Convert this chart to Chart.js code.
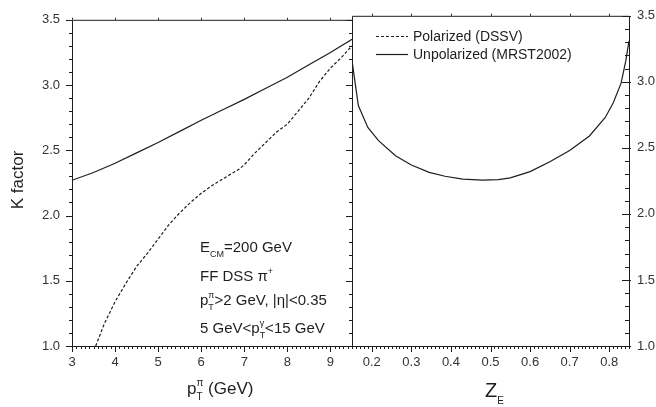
<!DOCTYPE html>
<html>
<head>
<meta charset="utf-8">
<script src="https://cdn.jsdelivr.net/npm/chart.js@4.4.1/dist/chart.umd.min.js"></script>
<style>
  html, body { margin: 0; padding: 0; background: #fff; }
  #wrap { position: relative; width: 656px; height: 407px; }
  #wrap canvas { position: absolute; left: 0; top: 0; }
</style>
</head>
<body>
<div id="wrap">
  <canvas id="kPt" width="656" height="407"></canvas>
  <canvas id="kZ" width="656" height="407"></canvas>
</div>
<script>
/* K factor vs pT (left) and vs z_E (right) */

// left panel
const ptTicks  = [3, 4, 5, 6, 7, 8, 9];
const unpolPtX = [3, 3.5, 4, 4.5, 5, 5.5, 6, 6.5, 7, 7.5, 8, 8.5, 9, 9.5];
const unpolPtK = [2.27, 2.33, 2.40, 2.48, 2.56, 2.645, 2.73, 2.81, 2.89, 2.975, 3.06, 3.155, 3.25, 3.35];
const polPtX   = [3.55, 3.75, 4.0, 4.25, 4.5, 4.75, 5.0, 5.25, 5.5, 5.75, 6.0, 6.25, 6.5, 6.75, 6.9, 7.0, 7.25, 7.5, 7.75, 8.0, 8.25, 8.5, 8.75, 9.0, 9.25, 9.5];
const polPtK   = [1.00, 1.17, 1.34, 1.48, 1.61, 1.71, 1.82, 1.93, 2.02, 2.10, 2.17, 2.23, 2.28, 2.33, 2.36, 2.39, 2.48, 2.56, 2.64, 2.70, 2.80, 2.90, 3.03, 3.13, 3.21, 3.30];

// right panel
const zTicks   = [0.2, 0.3, 0.4, 0.5, 0.6, 0.7, 0.8];
const unpolZX  = [0.15, 0.166, 0.19, 0.217, 0.26, 0.30, 0.345, 0.385, 0.43, 0.48, 0.52, 0.55, 0.60, 0.65, 0.70, 0.75, 0.79, 0.81, 0.83, 0.842, 0.85];
const unpolZK  = [3.16, 2.82, 2.655, 2.555, 2.44, 2.37, 2.315, 2.285, 2.263, 2.256, 2.26, 2.273, 2.32, 2.395, 2.48, 2.59, 2.73, 2.84, 2.99, 3.16, 3.31];

const kTicks   = [1.0, 1.5, 2.0, 2.5, 3.0, 3.5];

const FONT = '"Liberation Sans", Arial, sans-serif';
const INK  = '#1e1e1e';

Chart.defaults.font.family = FONT;
Chart.defaults.font.size = 13;
Chart.defaults.color = '#333';

const pts = (xs, ys) => xs.map((x, i) => ({ x, y: ys[i] }));

function lineSet(label, xs, ys, dash) {
  return {
    label, data: pts(xs, ys),
    borderColor: INK, borderWidth: 1.2, borderDash: dash || [],
    pointRadius: 0, tension: 0, fill: false,
  };
}

function steps(min, max, step) {
  const out = [];
  for (let i = Math.ceil(min / step - 1e-6); i * step <= max + 1e-9; i++) out.push(+(i * step).toFixed(6));
  return out;
}
const isMajor = (v, m) => Math.abs(v / m - Math.round(v / m)) < 1e-6;

// frame + minor ticks; each side: [majOut, minOut, majIn, minIn]
function makeFrame(cfg) {
  return {
    id: 'frame',
    afterDatasetsDraw(chart) {
      const { ctx, chartArea: a, scales: { x, y } } = chart;
      ctx.save();
      ctx.strokeStyle = INK;
      ctx.lineWidth = 1;
      ctx.beginPath();
      ctx.rect(a.left + 0.5, a.top + 0.5, a.right - a.left, a.bottom - a.top);
      const xs = steps(x.min, x.max, cfg.xMinor);
      const ys = steps(y.min, y.max, cfg.yMinor);
      xs.forEach(v => {
        const px = Math.round(x.getPixelForValue(v)) + 0.5, M = isMajor(v, cfg.xMajor);
        if (cfg.bottom) { const s = cfg.bottom; ctx.moveTo(px, a.bottom - (M ? s[2] : s[3])); ctx.lineTo(px, a.bottom + (M ? s[0] : s[1])); }
        if (cfg.top) { const s = cfg.top; ctx.moveTo(px, a.top + (M ? s[2] : s[3])); ctx.lineTo(px, a.top - (M ? s[0] : s[1])); }
      });
      ys.forEach(v => {
        const py = Math.round(y.getPixelForValue(v)) + 0.5, M = isMajor(v, cfg.yMajor);
        if (cfg.left) { const s = cfg.left; ctx.moveTo(a.left + (M ? s[2] : s[3]), py); ctx.lineTo(a.left - (M ? s[0] : s[1]), py); }
        if (cfg.right) { const s = cfg.right; ctx.moveTo(a.right - (M ? s[2] : s[3]), py); ctx.lineTo(a.right + (M ? s[0] : s[1]), py); }
      });
      ctx.stroke();
      ctx.restore();
    },
  };
}

// text with sub/superscripts
function rich(ctx, parts, x, y, size, small) {
  small = small || Math.round(size * 0.62);
  let cx = x;
  ctx.textAlign = 'left';
  ctx.textBaseline = 'alphabetic';
  ctx.fillStyle = INK;
  parts.forEach(p => {
    ctx.font = `${size}px ${FONT}`;
    ctx.fillText(p.t, cx, y);
    cx += ctx.measureText(p.t).width;
    ctx.font = `${small}px ${FONT}`;
    let sw = 0;
    if (p.sup) { ctx.fillText(p.sup, cx, y - size * 0.45); sw = ctx.measureText(p.sup).width; }
    if (p.sub) { ctx.fillText(p.sub, cx, y + size * 0.35); sw = Math.max(sw, ctx.measureText(p.sub).width); }
    cx += sw + (p.gap || 0);
  });
}

function yScale(position, width, pad) {
  return {
    type: 'linear', min: 1, max: 3.5, position,
    afterBuildTicks: s => { s.ticks = kTicks.map(v => ({ value: v })); },
    afterFit: s => { s.width = width; },
    grid: { display: false, drawTicks: false }, border: { display: false },
    ticks: { padding: pad, callback: v => v.toFixed(1) },
  };
}

function xScale(min, max, tickVals, fmt) {
  return {
    type: 'linear', min, max, position: 'bottom',
    afterBuildTicks: s => { s.ticks = tickVals.map(v => ({ value: v })); },
    afterFit: s => { s.height = 407 - 346; },
    grid: { display: false, drawTicks: false }, border: { display: false },
    ticks: { padding: 9, maxRotation: 0, autoSkip: false, callback: fmt },
  };
}

const baseOpts = {
  responsive: false, animation: false, events: [],
  plugins: { legend: { display: false }, tooltip: { enabled: false } },
};

new Chart(document.getElementById('kPt'), {
  type: 'line',
  data: { datasets: [
    lineSet('Polarized (DSSV)', polPtX, polPtK, [3, 2]),
    lineSet('Unpolarized (MRST2002)', unpolPtX, unpolPtK),
  ] },
  options: {
    ...baseOpts,
    layout: { padding: { left: 0, right: 656 - 352, top: 12, bottom: 0 } },
    scales: {
      x: xScale(3, 9.5, ptTicks, v => String(v)),
      y: yScale('left', 72, 12),
    },
  },
  plugins: [
    makeFrame({ xMinor: 0.1, xMajor: 1, yMinor: 0.1, yMajor: 0.5,
      bottom: [6, 3, 0, 0], top: [2, 0, 0, 0], left: [6, 3, 0, 1], right: [0, 0, 6, 3] }),
    {
      id: 'ptText',
      afterDraw(chart) {
        const ctx = chart.ctx;
        ctx.save();
        rich(ctx, [{ t: 'E', sub: 'CM' }, { t: '=200 GeV' }], 200, 252, 15, 9);
        rich(ctx, [{ t: 'FF DSS \u03c0', sup: '+' }], 200, 281, 15, 9);
        rich(ctx, [{ t: 'p', sup: '\u03c0', sub: 'T' }, { t: '>2 GeV, |\u03b7|<0.35' }], 200, 305, 15, 9);
        rich(ctx, [{ t: '5 GeV<p', sup: '\u03b3', sub: 'T' }, { t: '<15 GeV' }], 200, 333, 15, 9);
        rich(ctx, [{ t: 'p', sup: '\u03c0', sub: 'T' }, { t: ' (GeV)' }], 187, 394, 17, 10);
        ctx.translate(18, 180);
        ctx.rotate(-Math.PI / 2);
        ctx.font = `17px ${FONT}`;
        ctx.textAlign = 'center';
        ctx.textBaseline = 'middle';
        ctx.fillStyle = INK;
        ctx.fillText('K factor', 0, 0);
        ctx.restore();
      },
    },
  ],
});

new Chart(document.getElementById('kZ'), {
  type: 'line',
  data: { datasets: [
    lineSet('Unpolarized (MRST2002)', unpolZX, unpolZK),
  ] },
  options: {
    ...baseOpts,
    layout: { padding: { left: 352, right: 0, top: 12, bottom: 0 } },
    scales: {
      x: xScale(0.15, 0.85, zTicks, v => v.toFixed(1)),
      y: yScale('right', 656 - 629, 8),
    },
  },
  plugins: [
    makeFrame({ xMinor: 0.01, xMajor: 0.1, yMinor: 0.1, yMajor: 0.5,
      bottom: [6, 3, 0, 0], top: [2, 0, 0, 0], right: [2, 0, 7, 4] }),
    {
      id: 'zText',
      afterDraw(chart) {
        const ctx = chart.ctx;
        ctx.save();
        // legend
        ctx.strokeStyle = INK;
        ctx.lineWidth = 1.2;
        ctx.setLineDash([3, 2]);
        ctx.beginPath(); ctx.moveTo(376, 36.5); ctx.lineTo(408, 36.5); ctx.stroke();
        ctx.setLineDash([]);
        ctx.beginPath(); ctx.moveTo(376, 54.5); ctx.lineTo(408, 54.5); ctx.stroke();
        ctx.font = `14px ${FONT}`;
        ctx.fillStyle = INK;
        ctx.textAlign = 'left';
        ctx.textBaseline = 'middle';
        ctx.fillText('Polarized (DSSV)', 413, 37);
        ctx.fillText('Unpolarized (MRST2002)', 413, 55);
        rich(ctx, [{ t: 'Z', sub: 'E' }], 485, 397, 20, 10);
        ctx.restore();
      },
    },
  ],
});
</script>
</body>
</html>
